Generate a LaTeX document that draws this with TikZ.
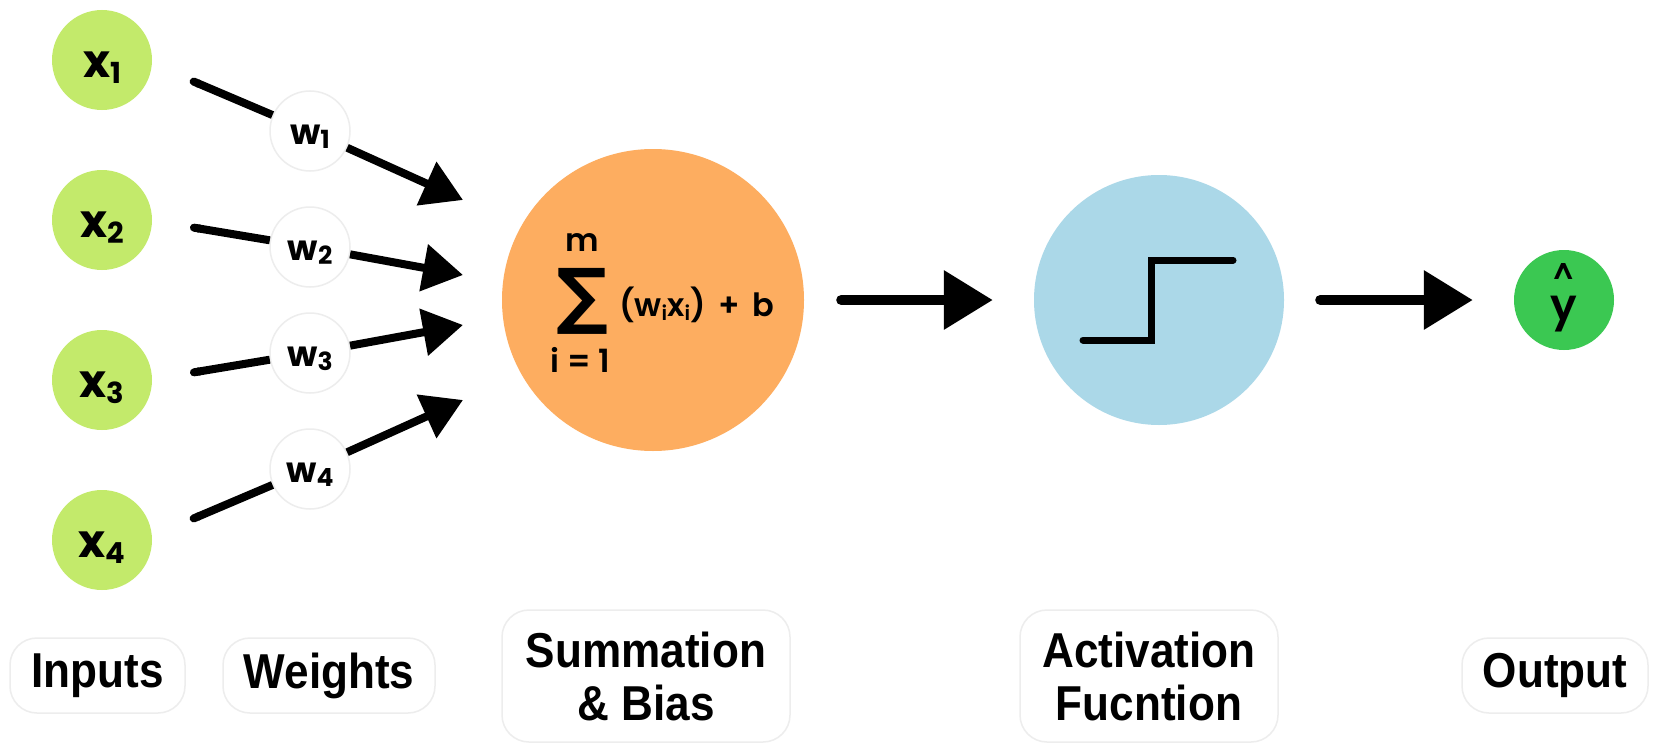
\documentclass[tikz,border=0pt]{standalone}
\usepackage{fontspec}
\usetikzlibrary{arrows.meta}
\newfontfamily\labfont{Liberation Sans}[FakeStretch=0.9]
\newfontfamily\popfont{Poppins}
\IfFontExistsTF{Poppins SemiBold}{\newfontfamily\popsemi{Poppins SemiBold}}{\newfontfamily\popsemi{Poppins}[FakeBold=1.5]}
\newfontfamily\sigfont{DejaVu Sans}
\definecolor{inpg}{HTML}{C3EA6B}
\definecolor{outg}{HTML}{3BC852}
\definecolor{sumo}{HTML}{FDAD60}
\definecolor{actb}{HTML}{ABD8E8}
\newcommand\xsub[1]{{\fontsize{46pt}{46pt}\selectfont x}\raisebox{-6pt}{\fontsize{29pt}{29pt}\selectfont #1}}
\newcommand\wsub[1]{{\fontsize{35pt}{35pt}\selectfont w}\raisebox{-4pt}{\fontsize{25pt}{25pt}\selectfont #1}}
\newcommand\isub{\raisebox{-4pt}{\fontsize{20pt}{20pt}\selectfont i}}
\tikzset{
  ring/.style={draw=black!7,line width=1.5pt},
  inpnode/.style={circle,fill=inpg,minimum size=100pt,inner sep=0pt,text height=40pt,text depth=5pt,font=\popfont\bfseries},
  wnode/.style={circle,fill=white,ring,minimum size=80pt,inner sep=0pt,text height=30pt,text depth=4pt,font=\popfont\bfseries},
  sumnode/.style={circle,fill=sumo,minimum size=302pt,inner sep=0pt},
  actnode/.style={circle,fill=actb,minimum size=250pt,inner sep=0pt},
  outnode/.style={circle,fill=outg,minimum size=100pt,inner sep=0pt},
  frm/.style={inner sep=0pt,font=\popsemi\fontsize{32pt}{32pt}\selectfont},
  wseg/.style={line width=8pt,{Round Cap[]}-},
  wline/.style={line width=8pt,-{Triangle[length=40pt,width=46pt]}},
  harrow/.style={line width=10pt,line cap=round,-{Triangle[length=49pt,width=57pt]}},
  stepline/.style={line width=7pt,line cap=round,line join=miter},
  labbox/.style={rectangle,rounded corners=27pt,fill=white,ring,inner sep=0pt,align=center,
    font=\labfont\bfseries\fontsize{49pt}{53pt}\selectfont},
}
\begin{document}
\begin{tikzpicture}[x=1pt,y=-1pt]
\fill[white] (0,0) rectangle (1658,752);
\useasboundingbox (0,0) rectangle (1658,752);

% inputs
\node[inpnode] (x1) at (102,60) {\xsub{1}};
\node[inpnode] (x2) at (102,220) {\xsub{2}};
\node[inpnode] (x3) at (102,380) {\xsub{3}};
\node[inpnode] (x4) at (102,540) {\xsub{4}};

% weights
\node[wnode] (w1) at (310,131) {\wsub{1}};
\node[wnode] (w2) at (310,247) {\wsub{2}};
\node[wnode] (w3) at (310,353) {\wsub{3}};
\node[wnode] (w4) at (310,469) {\wsub{4}};

\coordinate (s1) at (190,80);
\coordinate (s2) at (190,227);
\coordinate (s3) at (190,373);
\coordinate (s4) at (190,520);
\coordinate (e1) at (463,200);
\coordinate (e2) at (463,275);
\coordinate (e3) at (463,325);
\coordinate (e4) at (463,400);

\draw[wseg] (s1) -- (w1);
\draw[wline] (w1) -- (e1);
\draw[wseg] (s2) -- (w2);
\draw[wline] (w2) -- (e2);
\draw[wseg] (s3) -- (w3);
\draw[wline] (w3) -- (e3);
\draw[wseg] (s4) -- (w4);
\draw[wline] (w4) -- (e4);

% summation
\node[sumnode] (sum) at (653,300) {};
\node[frm] (sm) at ([shift={(-71,-57)}]sum.center) {m};
\node[inner sep=0pt] (ssig) at ([shift={(-70.5,1)}]sum.center) {\resizebox*{52pt}{66pt}{\sigfont\bfseries ∑}};
\node[frm] (slim) at ([shift={(-72.5,60)}]sum.center) {i = 1};
\node[frm,anchor=west] (sbody) at ([shift={(-34,5)}]sum.center) {(w\isub x\isub)\hspace{13pt}+\hspace{12pt}b};

% activation
\node[actnode] (act) at (1159,300) {};
\draw[stepline] ([shift={(-76,40)}]act.center) -- ++(68,0) -- ++(0,-80) -- ++(82,0);

% output
\node[outnode] (out) at (1564,300) {};
\node[inner sep=0pt,font=\popsemi\fontsize{44pt}{44pt}\selectfont] (yy) at (1564,314.5) {y};
\node[inner sep=0pt,font=\popsemi\fontsize{30pt}{30pt}\selectfont] (yhat) at (1564,274) {\textasciicircum};

% arrows
\draw[harrow] ([xshift=37pt]sum.east) -- ([xshift=-41pt]act.west);
\draw[harrow] ([xshift=36pt]act.east) -- ([xshift=-41pt]out.west);

% labels
\node[labbox,minimum width=175pt,minimum height=75pt] (linp) at (97.5,675.5) {Inputs};
\node[labbox,minimum width=212pt,minimum height=75pt] (lwts) at (329,675.5) {Weights};
\node[labbox,minimum width=288pt,minimum height=132pt] (lsum) at (646,676) {Summation\\\& Bias};
\node[labbox,minimum width=258pt,minimum height=132pt] (lact) at (1149,676) {Activation\\Fucntion};
\node[labbox,minimum width=186pt,minimum height=75pt] (lout) at (1555,675.5) {Output};
\end{tikzpicture}
\end{document}
